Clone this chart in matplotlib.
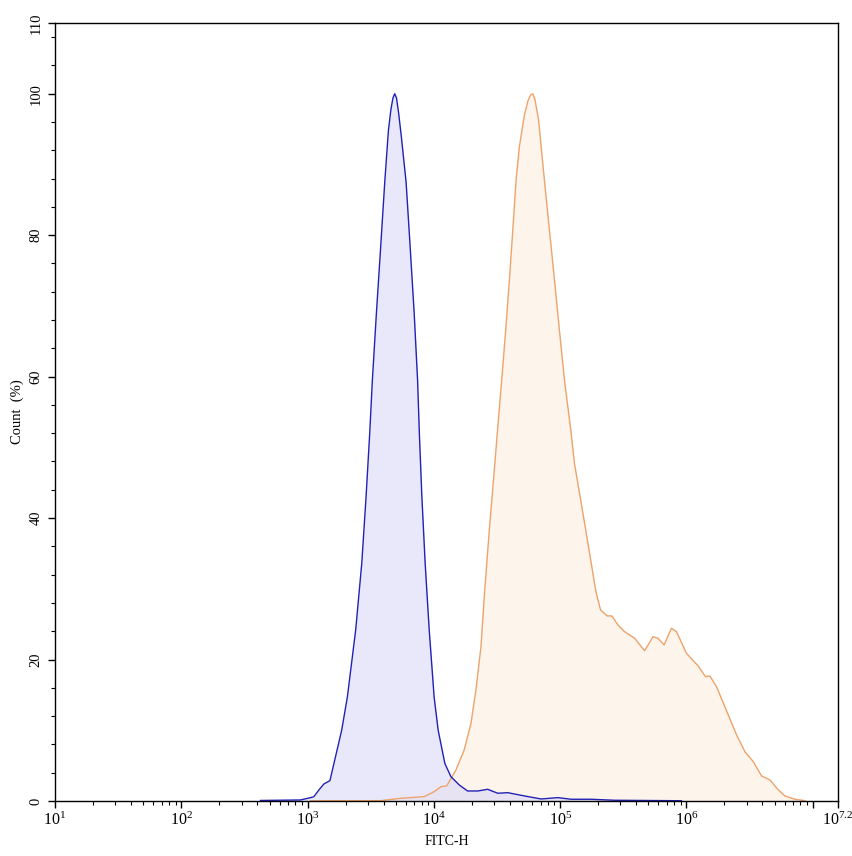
import numpy as np
import matplotlib
matplotlib.use('Agg')
import matplotlib.pyplot as plt
from matplotlib.ticker import FixedLocator, NullFormatter

# log10(FITC-H) and count (%)
blue_exp = [2.627, 2.944, 3.024, 3.050, 3.090, 3.129, 3.177, 3.209, 3.270, 3.315,
            3.381, 3.429, 3.463, 3.492, 3.513, 3.545, 3.579, 3.611, 3.640, 3.660,
            3.676, 3.690, 3.704, 3.720, 3.742,
            3.780, 3.812, 3.844, 3.871, 3.885, 3.905, 3.931, 3.963, 4.002,
            4.034, 4.087, 4.135, 4.201, 4.267, 4.347, 4.426, 4.506, 4.585, 4.717,
            4.849, 4.982, 5.087, 5.246, 5.429, 5.960]
blue_count = [0.07, 0.14, 0.47, 0.61, 1.56, 2.40, 2.87, 5.33, 10.0, 14.7,
              24.2, 33.6, 43.0, 52.0, 59.5, 69.0, 78.4, 87.5, 94.8, 97.8,
              99.4, 100.0, 99.4, 97.4, 94.0,
              87.5, 78.4, 69.0, 59.5, 52.0, 43.0, 33.6, 24.2, 14.7,
              10.0, 5.3, 3.44, 2.26, 1.41, 1.41, 1.65, 1.09, 1.17, 0.71,
              0.28, 0.47, 0.24, 0.24, 0.10, 0.03]

orange_exp = [3.024, 3.579, 3.738, 3.923, 4.002, 4.056, 4.101, 4.175, 4.240, 4.294,
              4.333, 4.373, 4.399, 4.439, 4.483, 4.500, 4.537, 4.569, 4.598, 4.625,
              4.651, 4.677, 4.717, 4.745, 4.765, 4.783, 4.800, 4.828, 4.875, 4.915,
              4.955, 4.994, 5.034,
              5.087, 5.113, 5.167, 5.220, 5.246, 5.272, 5.286, 5.320, 5.373, 5.410,
              5.458, 5.510, 5.590, 5.669, 5.736, 5.775, 5.823, 5.881, 5.921, 6.000,
              6.093, 6.151, 6.185, 6.238, 6.304, 6.397, 6.463, 6.529, 6.595, 6.661,
              6.728, 6.780, 6.860, 6.939]
orange_count = [0.03, 0.04, 0.38, 0.61, 1.31, 2.02, 2.12, 4.38, 7.21, 10.99,
                15.69, 21.82, 28.88, 38.31, 47.74, 51.51, 59.52, 66.59, 73.66, 80.74,
                87.81, 92.51, 97.0, 99.0, 99.8, 100.0, 99.2, 96.45, 87.81, 80.74,
                73.66, 66.59, 59.52,
                52.03, 47.74, 42.09, 36.43, 33.61, 30.78, 29.37, 27.0, 26.16, 26.16,
                24.88, 23.94, 23.0, 21.25, 23.23, 23.0, 22.06, 24.42, 23.94, 20.88,
                19.08, 17.57, 17.67, 16.16, 13.33, 9.33, 6.97, 5.56, 3.53, 2.97,
                1.56, 0.71, 0.24, 0.04]

x_tick_exp = [1, 2, 3, 4, 5, 6, 7, 7.2]
x_tick_labels = ['1', '2', '3', '4', '5', '6', '', '7.2']
y_ticks = [0, 20, 40, 60, 80, 100, 110]

plt.rcParams['font.family'] = ['Liberation Serif', 'DejaVu Serif']
plt.rcParams['mathtext.fontset'] = 'custom'
plt.rcParams['mathtext.rm'] = 'Liberation Serif'

fig = plt.figure(figsize=(8.53, 8.56), dpi=100)
ax = fig.add_axes([0.0645, 0.0643, 0.9179, 0.9088])

bx = 10 ** np.array(blue_exp)
ox = 10 ** np.array(orange_exp)

ax.fill_between(ox, orange_count, 0, color='#fdf3ea', alpha=0.9, lw=0)
ax.plot(ox, orange_count, color='#eda36a', lw=1.0)
ax.fill_between(bx, blue_count, 0, color='#d9d9f7', alpha=0.6, lw=0)
ax.plot(bx, blue_count, color='#2121b5', lw=1.0)

ax.set_xscale('log')
ax.set_xlim(10 ** 1, 10 ** 7.2)
ax.set_ylim(0, 110)

ax.xaxis.set_major_locator(FixedLocator([10 ** e for e in x_tick_exp]))
ax.set_xticklabels([r'$\mathregular{10^{%s}}$' % l if l else '' for l in x_tick_labels],
                   fontsize=11.5)
minors = [m * 10 ** d for d in range(1, 7) for m in range(2, 10)]
ax.xaxis.set_minor_locator(FixedLocator(minors))
ax.xaxis.set_minor_formatter(NullFormatter())

ax.set_yticks(y_ticks)
ax.set_yticklabels([str(v) for v in y_ticks], rotation=90, va='center', fontsize=10.5)
ax.yaxis.set_minor_locator(FixedLocator([v for v in range(4, 110, 4) if v % 20]))

ax.tick_params(which='major', length=5, width=1, direction='out')
ax.tick_params(which='minor', length=3, width=0.8, direction='out')
ax.tick_params(axis='x', pad=3)
ax.tick_params(axis='y', pad=4)

for s in ax.spines.values():
    s.set_linewidth(1.0)

ax.set_xlabel('FITC-H', fontsize=10, labelpad=4)
ax.set_ylabel('Count  (%)', fontsize=10.5, labelpad=4)

fig.savefig('out.png', dpi=100)
